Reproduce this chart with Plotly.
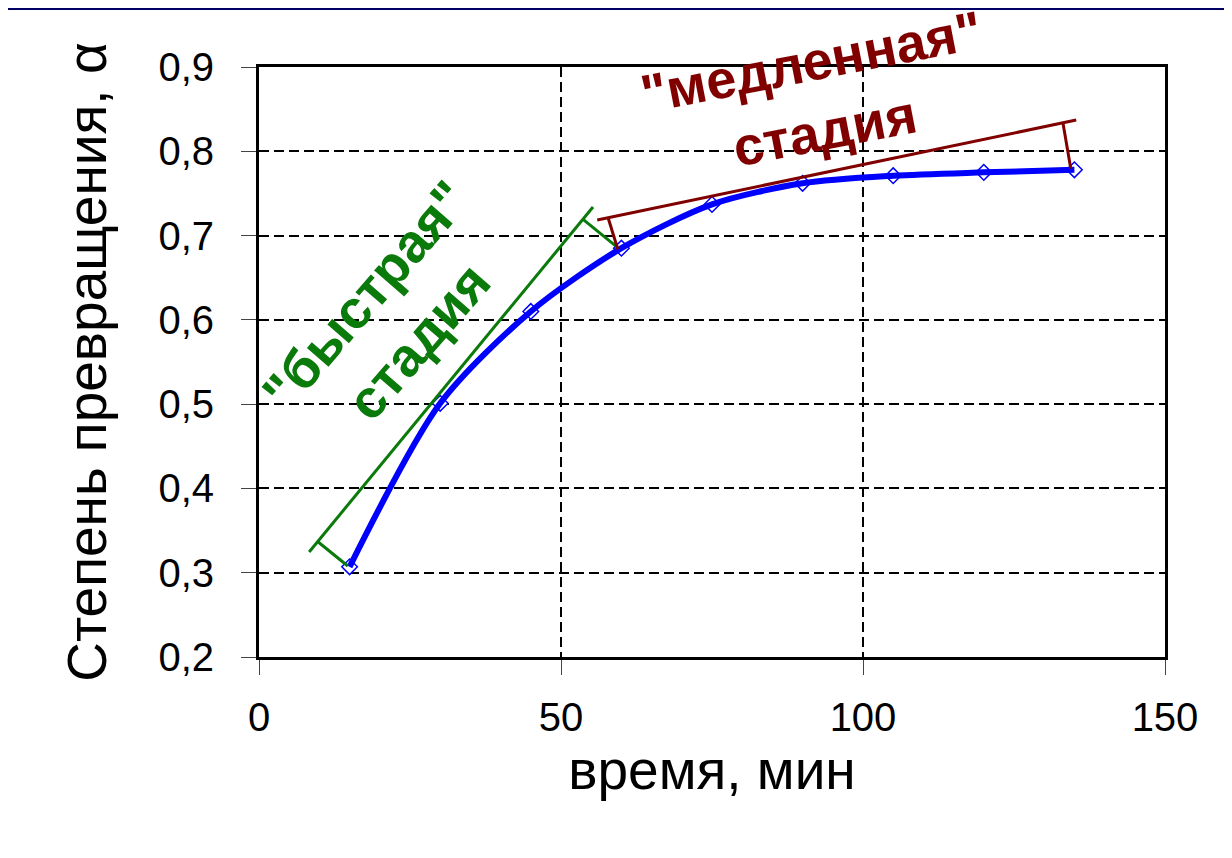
import plotly.graph_objects as go

# ---- data ----
time_min = [15, 30, 45, 60, 75, 90, 105, 120, 135]
alpha = [0.307, 0.501, 0.610, 0.685, 0.737, 0.762, 0.771, 0.775, 0.778]

x_ticks = [0, 50, 100, 150]

# guide lines ("fast" stage): long line + end brackets
fast_line_x = [8.3, 55.3]
fast_line_y = [0.3246, 0.7339]
fast_tick1_x = [9.8, 14.7]
fast_tick1_y = [0.3364, 0.308]
fast_tick2_x = [53.6, 59.3]
fast_tick2_y = [0.7196, 0.6863]

# guide lines ("slow" stage)
slow_line_x = [56.0, 135.3]
slow_line_y = [0.7184, 0.8371]
slow_tick1_x = [57.8, 59.4]
slow_tick1_y = [0.7212, 0.6837]
slow_tick2_x = [133.1, 134.4]
slow_tick2_y = [0.8339, 0.7794]

x_title = "время, мин"
y_title = "Степень превращения, α"
fast_label = "\"быстрая\"<br>стадия"
slow_label = "\"медленная\"<br>стадия"

# ---- layout constants (page body adds an 8px offset) ----
W, H = 1232, 858
ML, MR, MT, MB = 251, 75, 59, 209
PW, PH = W - ML - MR, H - MT - MB
FONT = "Arial, Liberation Sans, sans-serif"
BLUE = "#0000FF"
GREEN = "#0A7A0A"
DRED = "#800000"
NAVY = "#000066"

fig = go.Figure()

# markers below the line (white-filled diamonds)
fig.add_trace(go.Scatter(
    x=time_min, y=alpha, mode="markers",
    marker=dict(symbol="diamond", size=12, color="white",
                line=dict(color=BLUE, width=1.5)),
    showlegend=False, hoverinfo="skip"))
fig.add_trace(go.Scatter(
    x=time_min, y=alpha, mode="lines",
    line=dict(color=BLUE, width=6, shape="spline", smoothing=0.8),
    showlegend=False))

for xs, ys, col in [
    (fast_line_x, fast_line_y, GREEN),
    (fast_tick1_x, fast_tick1_y, GREEN),
    (fast_tick2_x, fast_tick2_y, GREEN),
    (slow_line_x, slow_line_y, DRED),
    (slow_tick1_x, slow_tick1_y, DRED),
    (slow_tick2_x, slow_tick2_y, DRED),
]:
    fig.add_trace(go.Scatter(x=xs, y=ys, mode="lines",
                             line=dict(color=col, width=3),
                             showlegend=False, hoverinfo="skip",
                             cliponaxis=False))

# thin remainder of the slide's navy top band
fig.add_shape(type="rect", xref="paper", yref="paper", layer="below",
              x0=-ML / PW, x1=(W - ML) / PW,
              y0=(H - MB - 2) / PH, y1=(H - MB) / PH,
              fillcolor=NAVY, line=dict(width=0))

fig.add_annotation(x=22.0, y=0.602, xref="x", yref="y", text=fast_label,
                   showarrow=False, textangle=-49,
                   font=dict(family=FONT, size=54, color=GREEN, weight="bold"))
fig.add_annotation(x=92.5, y=0.866, xref="x", yref="y", text=slow_label,
                   showarrow=False, textangle=-11,
                   font=dict(family=FONT, size=54, color=DRED, weight="bold"))

axis_common = dict(
    showgrid=True, gridcolor="black", gridwidth=2, griddash="10px,5px",
    showline=True, linecolor="black", linewidth=3, mirror=True,
    ticks="outside", ticklen=15, tickwidth=1, tickcolor="#444",
    tickfont=dict(family=FONT, size=40, color="black"),
    zeroline=False, automargin=False,
)

fig.update_xaxes(range=[0, 150], tickvals=x_ticks, ticklabelstandoff=8,
                 title=dict(text=x_title, standoff=4,
                            font=dict(family=FONT, size=55, color="black")),
                 **axis_common)
fig.update_yaxes(range=[0.2, 0.9], dtick=0.1, tick0=0.2, tickformat=".1f",
                 ticklabelstandoff=19,
                 title=dict(text=y_title, standoff=35,
                            font=dict(family=FONT, size=55, color="black")),
                 **axis_common)

fig.update_layout(
    width=W, height=H, autosize=False,
    margin=dict(l=ML, r=MR, t=MT, b=MB, pad=0),
    paper_bgcolor="white", plot_bgcolor="white",
    separators=", ",
    showlegend=False,
)

fig.write_html("out.html")
